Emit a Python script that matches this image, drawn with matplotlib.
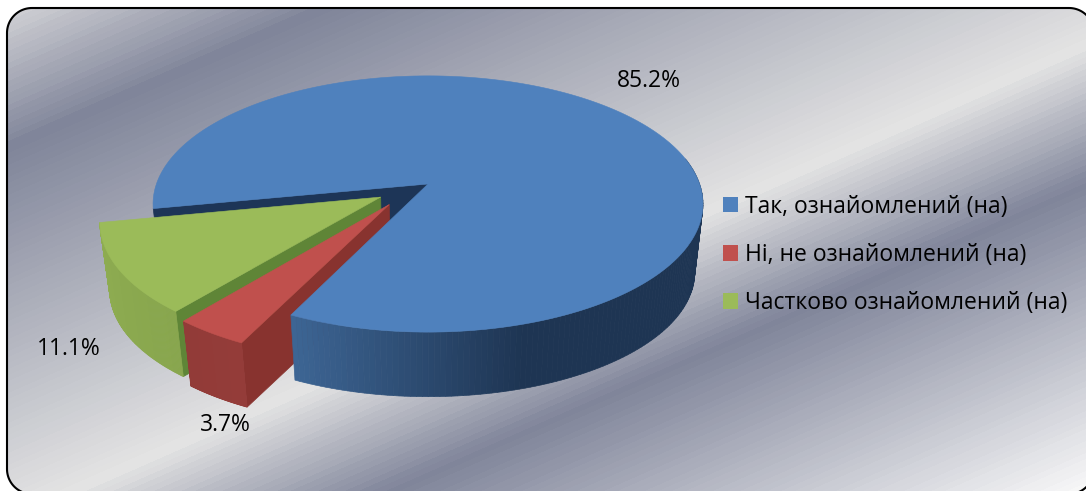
import numpy as np
import matplotlib
matplotlib.use("Agg")
from matplotlib import pyplot as plt
from matplotlib.colors import LinearSegmentedColormap, to_rgb
from matplotlib.patches import Patch, Polygon

plt.rcParams["font.family"] = ["Open Sans", "DejaVu Sans"]

categories = ["Так, ознайомлений (на)", "Ні, не ознайомлений (на)", "Частково ознайомлений (на)"]
values = [85.2, 3.7, 11.1]
value_labels = ["85.2%", "3.7%", "11.1%"]
explode = [0.0, 0.212, 0.2]
pull_shift = [0, -8.6, 0]

top_colors = ["#4F81BD", "#C0504D", "#9BBB59"]
wall_colors = ["#1D3557", "#88332F", "#5F8537"]
side_start = ["#3D6594", "#943C39", "#8FAD52"]
side_end = ["#1E3553", "#923B38", "#88A64D"]

# perspective of the pie, pixels
cx, cy = 428, 184
A, B, p = 271.6, 125.0, 0.156
depth, shrink = 69, 0.97
start_angle = 191

fig = plt.figure(figsize=(10.86, 4.91), dpi=100, facecolor="white")
ax = fig.add_axes([0, 0, 1, 1])


def project(u, v, bottom=False):
    w = 1 + p * v
    x, y = A * u / w, -B * v / w
    if bottom:
        return cx + shrink * x, cy + depth + shrink * y
    return cx + x, cy + y


def ring(a1, a2, off, n=80):
    t = np.radians(np.linspace(a1, a2, n))
    return np.cos(t) + off[0], np.sin(t) + off[1]


def round_frame(x0, y0, x1, y1, r):
    pts = []
    for ox, oy, a in [(x1 - r, y0 + r, -90), (x1 - r, y1 - r, 0), (x0 + r, y1 - r, 90), (x0 + r, y0 + r, 180)]:
        t = np.radians(np.linspace(a, a + 90, 30))
        pts += list(zip(ox + r * np.cos(t), oy + r * np.sin(t)))
    return Polygon(pts, closed=True, fc="none", ec="black", lw=1.5, zorder=9)


# background
frame = round_frame(7, 8, 1094, 494, 25)
ax.add_patch(frame)
xx, yy = np.meshgrid(np.arange(1100), np.arange(500))
s = np.floor((yy + 0.44 * xx) / 6) * 6
stops = [0, 146, 520, 660, 970]
cols = ["#D6D6D9", "#80859A", "#E4E4E4", "#80859A", "#FAFAFA"]
cmap = LinearSegmentedColormap.from_list("bg", [(a / 970, c) for a, c in zip(stops, cols)], N=256)
im = ax.imshow(s, extent=(0, 1100, 500, 0), cmap=cmap, vmin=0, vmax=970, aspect="auto", zorder=0)
im.set_clip_path(frame)
ax.set_xlim(0, 1086)
ax.set_ylim(491, 0)
ax.axis("off")

# slice angles, clockwise from the start angle
spans = np.array(values) / sum(values) * 360
ends = start_angle - np.cumsum(spans)
starts = ends + spans


def side_face(i, off, a1, a2, z):
    c1 = np.array(to_rgb(side_start[i]))
    c2 = np.array(to_rgb(side_end[i]))
    us, vs = ring(a1, a2, off, 120)
    tx, ty = project(us, vs)
    bx, by = project(us, vs, True)
    for k in range(len(us) - 1):
        f = min(max((tx[k] - 290) / 230, 0), 1) if i == 0 else k / (len(us) - 1)
        pts = [(tx[k], ty[k]), (tx[k + 1], ty[k + 1]), (bx[k + 1], by[k + 1]), (bx[k], by[k])]
        col = c1 + (c2 - c1) * f
        ax.add_patch(Polygon(pts, fc=col, ec=col, lw=0.5, zorder=z))


def wall(i, off, angle, z):
    u = np.array([off[0], np.cos(np.radians(angle)) + off[0]])
    v = np.array([off[1], np.sin(np.radians(angle)) + off[1]])
    tx, ty = project(u, v)
    bx, by = project(u, v, True)
    ax.add_patch(Polygon(list(zip(tx, ty)) + list(zip(bx[::-1], by[::-1])),
                         fc=wall_colors[i], ec=wall_colors[i], lw=0.5, zorder=z))


def top_face(i, off, a1, a2, z):
    us, vs = ring(a1, a2, off, 240)
    tx, ty = project(us, vs)
    ox, oy = project(off[0], off[1])
    ax.add_patch(Polygon([(ox, oy)] + list(zip(tx, ty)), fc=top_colors[i], ec=top_colors[i],
                         lw=0.4, zorder=z))


mids = np.radians((starts + ends) / 2 + np.array(pull_shift))
offs = [(e * np.cos(m), e * np.sin(m)) for e, m in zip(explode, mids)]

# back wall of the big slice goes first, then the pulled out slices, big slice on top
wall(0, offs[0], starts[0], 1)
wall(2, offs[2], starts[2], 2)
side_face(2, offs[2], ends[2], starts[2], 2)
top_face(2, offs[2], ends[2], starts[2], 3)
wall(1, offs[1], starts[1], 4)
side_face(1, offs[1], starts[1], ends[1], 4)
top_face(1, offs[1], ends[1], starts[1], 5)
side_face(0, offs[0], ends[0], 12, 6)
top_face(0, offs[0], ends[0], starts[0], 7)

# value labels
label_x = [649, 225, 69]
label_y = [81, 425, 349]
for t, lx, ly in zip(value_labels, label_x, label_y):
    ax.text(lx, ly, t, ha="center", va="center", fontsize=16.5, color="black", zorder=8)

handles = [Patch(fc=c, ec="none") for c in top_colors]
leg = ax.legend(handles, categories, loc="center left", bbox_to_anchor=(723 / 1086, 1 - 255 / 491),
                frameon=False, fontsize=16.5, handlelength=0.655, handleheight=0.655,
                handletextpad=0.3, labelspacing=1.055, borderpad=0, borderaxespad=0)
leg.set_zorder(8)

fig.savefig("out.png", dpi=100)
